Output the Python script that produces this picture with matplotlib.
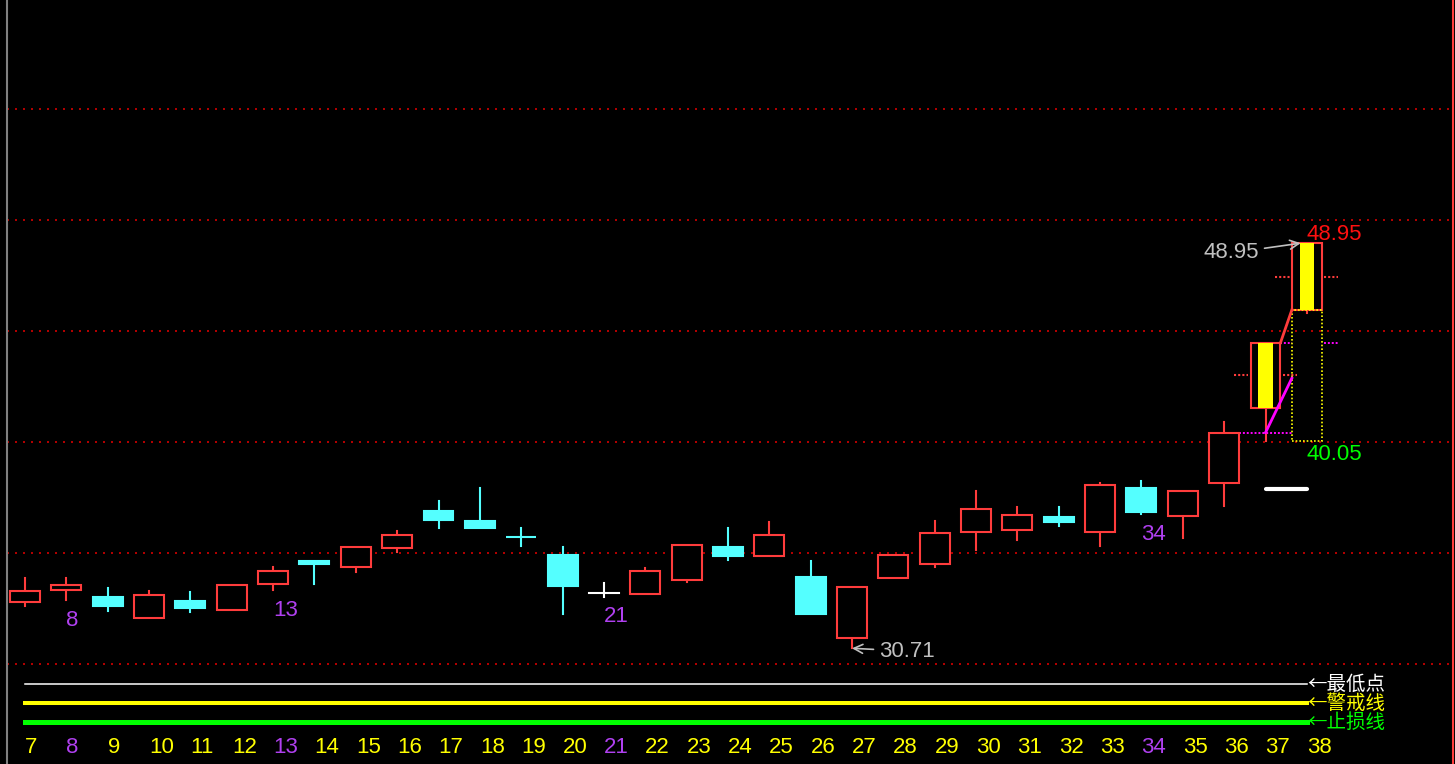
import matplotlib
matplotlib.use("Agg")
import matplotlib.pyplot as plt
import matplotlib.transforms as mtransforms
from matplotlib.patches import Rectangle

plt.rcParams["font.family"] = ["Liberation Sans", "DejaVu Sans"]

# Data
days = list(range(7, 39))
opens = [32.79, 33.33, 33.03, 32.09, 32.85, 32.43, 33.60, 34.64, 34.36, 35.24,
         36.91, 36.45, 35.73, 34.92, 33.18, 33.15, 33.78, 35.28, 34.88, 33.93,
         31.17, 33.89, 34.50, 35.96, 36.04, 36.64, 35.96, 37.91, 36.68, 38.14,
         41.55, 45.95]
highs = [33.87, 33.87, 33.42, 33.30, 33.24, 33.56, 34.38, 34.64, 35.26, 36.00,
         37.36, 37.91, 36.11, 35.28, 33.66, 34.31, 35.36, 36.11, 36.38, 34.65,
         33.47, 34.91, 36.45, 37.81, 37.09, 37.09, 38.17, 38.26, 37.79, 40.89,
         44.47, 48.95]
lows = [32.61, 32.88, 32.39, 32.09, 32.34, 32.43, 33.33, 33.60, 34.16, 35.06,
        36.11, 36.13, 35.32, 32.25, 33.03, 33.15, 33.68, 34.68, 34.88, 32.25,
        30.71, 33.89, 34.38, 35.14, 35.59, 36.22, 35.32, 36.76, 35.66, 37.13,
        40.05, 45.81]
closes = [33.29, 33.57, 32.61, 33.11, 32.51, 33.56, 34.19, 34.50, 35.26, 35.81,
          36.49, 36.13, 35.70, 33.51, 33.18, 34.19, 35.36, 34.86, 35.81, 32.25,
          33.47, 34.91, 35.91, 36.98, 36.71, 36.38, 38.06, 36.83, 37.79, 40.39,
          44.47, 48.95]

fib_days = [8, 13, 21, 34]
highlight_days = [37, 38]
grid_levels = [30, 35, 40, 45, 50, 55]

proj_high = 48.95
proj_low = 40.05
pink_start = 40.42
pink_end = 42.87
white_mark = 37.87

legend_labels = ["←最低点", "←警戒线", "←止损线"]
legend_colors = ["#ffffff", "#ffff00", "#00ff00"]

RED = "#ff3c3c"
CYAN = "#54ffff"
YELLOW = "#ffff00"
PURPLE = "#b040f0"
GRAY = "#c0c0c0"
MAGENTA = "#ff00ff"
GRIDRED = "#b00000"

W_PX, H_PX = 1455, 764
px_per_day = 41.35
first_px = 25

fig = plt.figure(figsize=(W_PX / 100, H_PX / 100), dpi=100, facecolor="black")
ax = fig.add_axes([7 / W_PX, 0, (1453 - 7) / W_PX, 1])
ax.set_facecolor("black")
ax.set_xlim(days[0] - (first_px - 7) / px_per_day, days[0] + (1453 - first_px) / px_per_day)
ax.set_ylim(25.5, 59.9)
ax.set_xticks([])
ax.set_yticks([])
ax.spines["top"].set_visible(False)
ax.spines["bottom"].set_visible(False)
ax.spines["left"].set_color("#808080")
ax.spines["left"].set_linewidth(1.5)
ax.spines["right"].set_color(RED)
ax.spines["right"].set_linewidth(1.5)

for lvl in grid_levels:
    ax.axhline(lvl, color=GRIDRED, lw=1.44, ls=(0, (1, 3)), zorder=1)

w = 0.725
for d, o, h, l, c in zip(days, opens, highs, lows, closes):
    top, bot = max(o, c), min(o, c)
    if c > o or d in highlight_days:
        col, fill = RED, "black"
    elif c < o:
        col, fill = CYAN, CYAN
    else:
        col, fill = "#ffffff", "#ffffff"
    if h > top:
        ax.plot([d, d], [top, h], color=col, lw=1.5, zorder=3)
    if l < bot:
        ax.plot([d, d], [l, bot], color=col, lw=1.5, zorder=3)
    if top > bot:
        ax.add_patch(Rectangle((d - w / 2, bot), w, top - bot, facecolor=fill,
                               edgecolor=col, lw=1.5, zorder=3))
    else:
        ax.plot([d - w / 2, d + w / 2], [o, o], color=col, lw=1.5, zorder=3)
    if d in highlight_days:
        ax.add_patch(Rectangle((d - 0.17, bot), 0.34, top - bot, facecolor=YELLOW,
                               edgecolor="none", zorder=4))
        mid = (o + c) / 2
        ax.plot([d - w / 2 - 0.4, d - w / 2 - 0.05], [mid, mid], color=RED,
                lw=1.5, ls=(0, (1, 1)), zorder=2)
        ax.plot([d + w / 2 + 0.05, d + w / 2 + 0.4], [mid, mid], color=RED,
                lw=1.5, ls=(0, (1, 1)), zorder=2)

# projection marks on the last bars
d37, d38 = highlight_days
i37, i38 = days.index(d37), days.index(d38)
ax.add_patch(Rectangle((d38 - w / 2, proj_low), w, opens[i38] - proj_low, fill=False,
                       edgecolor=YELLOW, lw=1.2, ls=(0, (1, 1.2)), zorder=4))
ax.plot([d37 - 1 + w / 2, d38 - w / 2], [pink_start, pink_start], color=MAGENTA,
        lw=1.4, ls=(0, (1, 1)), zorder=2)
ax.plot([d37 + w / 2, d38 - w / 2], [closes[i37], closes[i37]], color=MAGENTA,
        lw=1.4, ls=(0, (1, 1)), zorder=2)
ax.plot([d38 + w / 2 + 0.05, d38 + w / 2 + 0.4], [closes[i37], closes[i37]], color=MAGENTA,
        lw=1.4, ls=(0, (1, 1)), zorder=2)
ax.plot([d37, d38 - w / 2], [pink_start, pink_end], color=MAGENTA, lw=2, zorder=5)
ax.plot([d37 + w / 2, d38 - w / 2], [closes[i37], opens[i38]], color=RED, lw=2, zorder=5)
ax.plot([d37, d38], [white_mark, white_mark], color="#ffffff", lw=3,
        solid_capstyle="round", zorder=5)

ax.annotate(f"{proj_high:.2f}", xy=(d38, proj_high), xytext=(0, 2), textcoords="offset points",
            ha="left", va="baseline", color="#ff1010", fontsize=16, zorder=6)
ax.annotate(f"{proj_low:.2f}", xy=(d38, proj_low), xytext=(0, -2), textcoords="offset points",
            ha="left", va="top", color="#00ff00", fontsize=16, zorder=6)

# highest / lowest markers
i_hi = highs.index(max(highs))
i_lo = lows.index(min(lows))
ax.annotate(f"{highs[i_hi]:.2f}", xy=(days[i_hi] - 0.15, highs[i_hi]), xytext=(-30, -7),
            textcoords="offset points", ha="right", va="center", color=GRAY, fontsize=16,
            arrowprops=dict(arrowstyle="->", color=GRAY, lw=1.2, shrinkA=2, shrinkB=0),
            zorder=6)
ax.annotate(f"{lows[i_lo]:.2f}", xy=(days[i_lo], lows[i_lo]), xytext=(19.5, -2),
            textcoords="offset points", ha="left", va="center", color=GRAY, fontsize=16,
            arrowprops=dict(arrowstyle="->", color=GRAY, lw=1.2, shrinkA=2, shrinkB=0),
            zorder=6)

# fibonacci day numbers under the bars
for d in fib_days:
    i = days.index(d)
    ax.annotate(str(d), xy=(d, lows[i]), xytext=(0, -7), textcoords="offset points",
                ha="left", va="top", color=PURPLE, fontsize=16, zorder=6)

# bottom strip: reference lines and day labels
trans = mtransforms.blended_transform_factory(ax.transData, ax.transAxes)
strip_y = [1 - 684 / H_PX, 1 - 703 / H_PX, 1 - 722 / H_PX]
strip_lw = [1.1, 2.9, 3.6]
for lab, col, yy, lw in zip(legend_labels, legend_colors, strip_y, strip_lw):
    ax.plot([days[0], days[-1]], [yy, yy], color=col, lw=lw, transform=trans, zorder=3)
    ax.text(days[-1], yy, lab, color=col, fontsize=14, ha="left", va="center",
            transform=trans, family=["Noto Sans CJK SC", "DejaVu Sans"], zorder=6)

for d in days:
    ax.text(d, 1 - 747.5 / H_PX, str(d), color=PURPLE if d in fib_days else YELLOW,
            fontsize=16, ha="left", va="center", transform=trans)

fig.savefig("out.png", dpi=100, facecolor="black")
